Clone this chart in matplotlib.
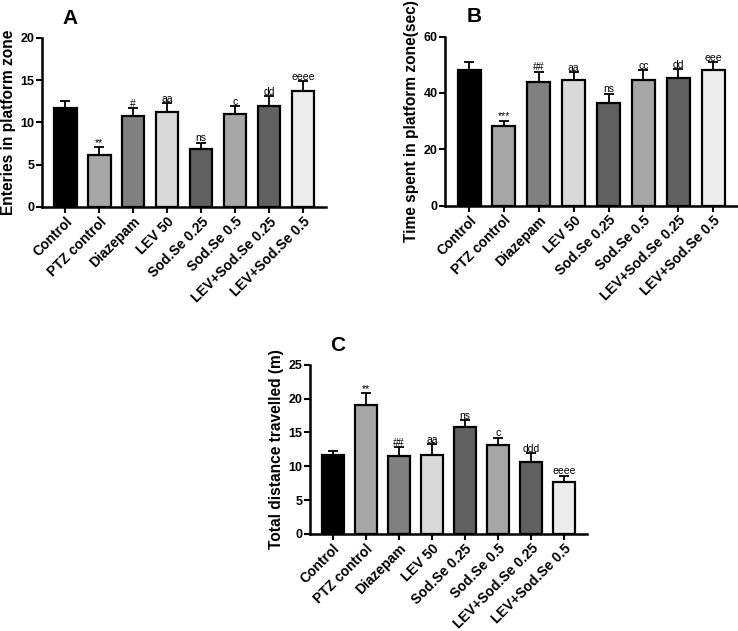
import numpy as np
import matplotlib.pyplot as plt

plt.rcParams['font.family'] = ['Liberation Sans', 'DejaVu Sans']

# groups and bar colours
groups = ['Control', 'PTZ control', 'Diazepam', 'LEV 50', 'Sod.Se 0.25',
          'Sod.Se 0.5', 'LEV+Sod.Se 0.25', 'LEV+Sod.Se 0.5']
bar_colors = ['#000000', '#a6a6a6', '#808080', '#d9d9d9', '#606060',
              '#a6a6a6', '#606060', '#ececec']

# A: entries in platform zone
entries_mean = [11.7, 6.2, 10.7, 11.2, 6.8, 11.0, 12.0, 13.7]
entries_err = [0.8, 0.9, 1.0, 1.1, 0.8, 0.9, 1.1, 1.2]
entries_sig = ['', '**', '#', 'aa', 'ns', 'c', 'dd', 'eeee']

# B: time spent in platform zone (sec)
time_mean = [48.3, 28.4, 44.0, 44.7, 36.4, 44.7, 45.3, 48.2]
time_err = [2.8, 1.8, 3.6, 2.7, 3.4, 3.3, 3.1, 2.7]
time_sig = ['', '***', '##', 'aa', 'ns', 'cc', 'dd', 'eee']

# C: total distance travelled (m)
dist_mean = [11.6, 19.0, 11.5, 11.7, 15.8, 13.2, 10.6, 7.6]
dist_err = [0.6, 1.8, 1.3, 1.6, 1.0, 1.0, 1.3, 1.0]
dist_sig = ['', '**', '##', 'aa', 'ns', 'c', 'ddd', 'eeee']


def draw_panel(ax, means, errs, sigs, ymax, ystep, ylabel, letter):
    x = np.arange(len(groups))
    ax.bar(x, means, width=0.66, color=bar_colors, edgecolor='black',
           linewidth=1.6, zorder=2)
    ax.errorbar(x, means, yerr=[np.zeros(len(errs)), errs], fmt='none',
                ecolor='black', elinewidth=1.3, capsize=3.5, capthick=1.3,
                zorder=1)
    for xi, m, e, s in zip(x, means, errs, sigs):
        if s:
            ax.text(xi, m + e - ymax * 0.004, s, ha='center', va='bottom',
                    fontsize=7.5)
    ax.set_xlim(-0.69, len(groups) - 0.31)
    ax.set_ylim(0, ymax)
    ax.set_yticks(np.arange(0, ymax + 0.1, ystep))
    ax.set_xticks(x)
    ax.set_xticklabels(groups, rotation=45, ha='right', rotation_mode='anchor',
                       fontsize=10, fontweight='bold')
    for lab in ax.get_yticklabels():
        lab.set_fontweight('bold')
        lab.set_fontsize(9)
    ax.tick_params(axis='both', width=1.5, length=4, pad=1.5)
    ax.spines['top'].set_visible(False)
    ax.spines['right'].set_visible(False)
    ax.spines['left'].set_linewidth(1.8)
    ax.spines['bottom'].set_linewidth(1.8)
    ax.set_ylabel(ylabel, fontsize=11.2, fontweight='bold', labelpad=3)
    ax.text(0.1, 1.06, letter, transform=ax.transAxes, fontsize=15,
            fontweight='bold', ha='center', va='bottom')


fig = plt.figure(figsize=(7.38, 6.31), dpi=100)
axA = fig.add_axes([0.057, 0.672, 0.385, 0.268])
axB = fig.add_axes([0.603, 0.674, 0.396, 0.268])
axC = fig.add_axes([0.42, 0.154, 0.375, 0.268])

draw_panel(axA, entries_mean, entries_err, entries_sig, 20, 5,
           'Enteries in platform zone', 'A')
draw_panel(axB, time_mean, time_err, time_sig, 60, 20,
           'Time spent in platform zone(sec)', 'B')
draw_panel(axC, dist_mean, dist_err, dist_sig, 25, 5,
           'Total distance travelled (m)', 'C')

fig.savefig('out.png', dpi=100)
